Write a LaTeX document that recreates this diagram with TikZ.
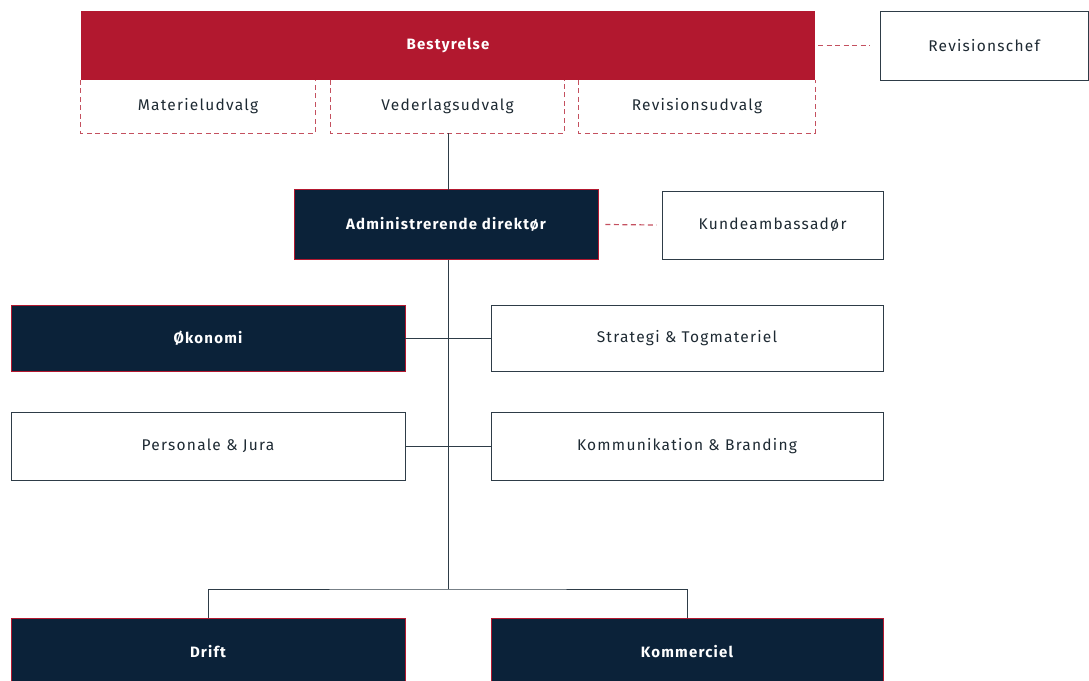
\documentclass[tikz,border=0pt]{standalone}
\usepackage{fontspec}
\setmainfont{Fira Sans}[LetterSpace=8]
\begin{document}
\begin{tikzpicture}[x=1pt,y=-1pt,
  every node/.style={inner sep=0pt, font=\fontsize{15.5}{17}\selectfont},
  redbox/.style={rectangle, fill=boardred, text=white, font=\fontsize{15}{17}\selectfont\bfseries},
  navybox/.style={rectangle, fill=navy, draw=boardred, line width=0.8pt, text=white, font=\fontsize{15}{17}\selectfont\bfseries},
  whitebox/.style={rectangle, fill=white, draw=boxline, line width=1pt, text=textdark},
  cmtbox/.style={rectangle, text=textdark},
  reddash/.style={draw=dashred, line width=1.2pt, dash pattern=on 5pt off 3.5pt},
  conn/.style={draw=boxline, line width=1pt}]
\definecolor{boardred}{HTML}{B2182F}
\definecolor{dashred}{HTML}{C4505F}
\definecolor{navy}{HTML}{0B2239}
\definecolor{boxline}{HTML}{2E3C47}
\definecolor{textdark}{HTML}{1E2A33}
\useasboundingbox (0,0) rectangle (1089,680);
\begin{scope}
\clip (0,0) rectangle (1089,680);
% board
\node[redbox, minimum width=734pt, minimum height=69pt] (board) at (448,45.5) {Bestyrelse};
\node[cmtbox, minimum width=234pt, minimum height=53pt] (mat) at (198,106.5) {Materieludvalg};
\node[cmtbox, minimum width=233pt, minimum height=53pt] (ved) at (447.5,106.5) {Vederlagsudvalg};
\node[cmtbox, minimum width=236pt, minimum height=53pt] (rev) at (697,106.5) {Revisionsudvalg};
\foreach \n in {mat,ved,rev}{
  \draw[reddash] (\n.north west) -- (\n.south west) -- (\n.south east) -- (\n.north east);
}
\node[whitebox, minimum width=208pt, minimum height=69pt] (chef) at (984,45.5) {Revisionschef};
\draw[reddash] ([xshift=3pt]board.east) -- ([xshift=-10pt]chef.west);

% CEO
\node[navybox, minimum width=304pt, minimum height=70pt] (ceo) at (446,224.5) {Administrerende direktør};
\node[whitebox, minimum width=221pt, minimum height=68pt] (kunde) at (772.5,225) {Kundeambassadør};
\draw[reddash] ([xshift=7pt]ceo.east) -- ([xshift=-5pt]kunde.west);
\draw[conn] (ved.south -| 448,0) -- (448,189.5);

% departments
\node[navybox, minimum width=394pt, minimum height=66pt] (oek) at (208,338) {Økonomi};
\node[whitebox, minimum width=392pt, minimum height=66pt] (strat) at (687,338) {Strategi \& Togmateriel};
\node[whitebox, minimum width=394pt, minimum height=68pt] (pers) at (208,446) {Personale \& Jura};
\node[whitebox, minimum width=392pt, minimum height=68pt] (komm) at (687,446) {Kommunikation \& Branding};
\coordinate (split) at (448,589);
\draw[conn] (ceo.south -| split) -- (split);
\draw[conn] (oek.east) -- (strat.west);
\draw[conn] (pers.east) -- (komm.west);

% bottom
\node[navybox, minimum width=394pt, minimum height=68pt] (drift) at (208,652) {Drift};
\node[navybox, minimum width=392pt, minimum height=68pt] (kom) at (687,652) {Kommerciel};
\draw[conn] (drift.north) |- (split) -| (kom.north);
\end{scope}
\end{tikzpicture}
\end{document}
